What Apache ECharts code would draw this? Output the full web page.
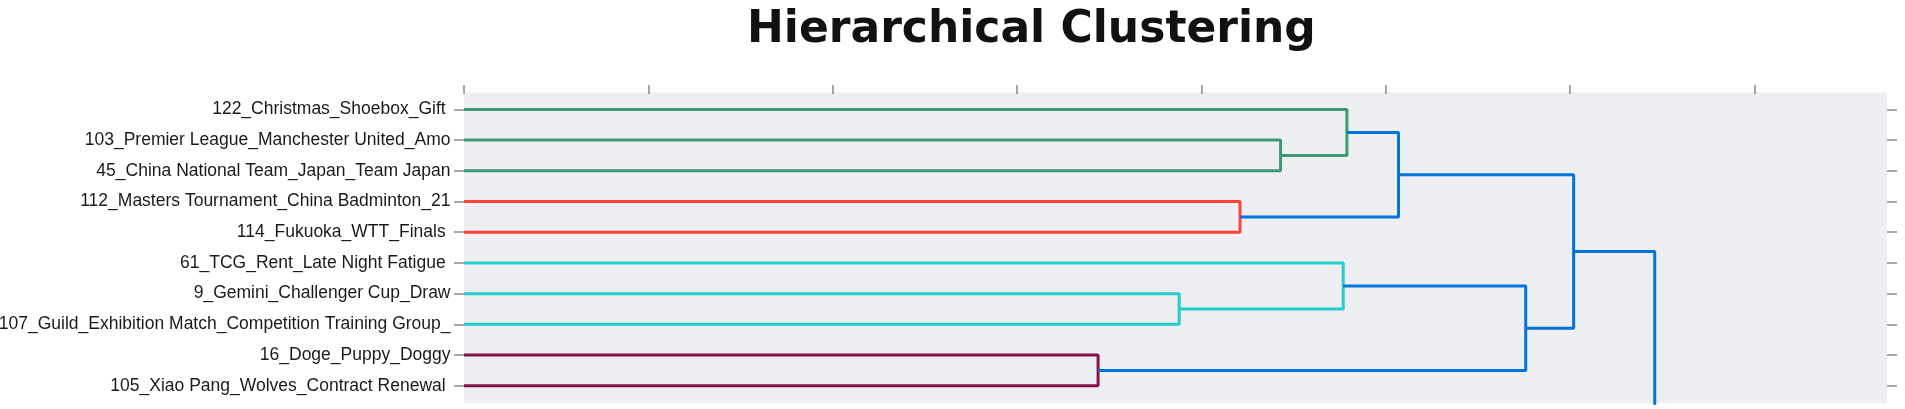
<!DOCTYPE html>
<html>
<head>
<meta charset="utf-8">
<title>Hierarchical Clustering</title>
<script src="https://cdn.jsdelivr.net/npm/echarts@6/dist/echarts.min.js"></script>
<style>
  html, body { margin: 0; padding: 0; background: #fff; }
  #chart { width: 1905px; height: 409px; }
</style>
</head>
<body>
<div id="chart"></div>
<script>
// leaves from top to bottom (trailing spaces are in the original labels)
let leafNames = [
    '122_Christmas_Shoebox_Gift ',
    '103_Premier League_Manchester United_Amo',
    '45_China National Team_Japan_Team Japan',
    '112_Masters Tournament_China Badminton_21',
    '114_Fukuoka_WTT_Finals ',
    '61_TCG_Rent_Late Night Fatigue ',
    '9_Gemini_Challenger Cup_Draw',
    '107_Guild_Exhibition Match_Competition Training Group_',
    '16_Doge_Puppy_Doggy',
    '105_Xiao Pang_Wolves_Contract Renewal '
]
let leafPos = [5, 15, 25, 35, 45, 55, 65, 75, 85, 95]
let distTicks = [0, 1, 2, 3, 4, 5, 6, 7]

// one U shaped link per merge: distance (dcoord) and leaf position (icoord)
let linkDist = [
    [0, 4.43, 4.43, 0],
    [0, 4.79, 4.79, 4.43],
    [0, 4.21, 4.21, 0],
    [4.79, 5.07, 5.07, 4.21],
    [0, 3.88, 3.88, 0],
    [0, 4.77, 4.77, 3.88],
    [0, 3.44, 3.44, 0],
    [4.77, 5.76, 5.76, 3.44],
    [5.07, 6.02, 6.02, 5.76],
    [6.02, 6.46, 6.46, 6.0]
]
let linkPos = [
    [15, 15, 25, 25],
    [5, 5, 20, 20],
    [35, 35, 45, 45],
    [12.5, 12.5, 40, 40],
    [65, 65, 75, 75],
    [55, 55, 70, 70],
    [85, 85, 95, 95],
    [62.5, 62.5, 90, 90],
    [26.25, 26.25, 76.25, 76.25],
    [51.25, 51.25, 150, 150]
]
let linkColor = [
    'rgb(61,153,112)', 'rgb(61,153,112)', 'rgb(255,65,54)', 'rgb(0,116,217)',
    'rgb(35,205,205)', 'rgb(35,205,205)', 'rgb(133,20,75)', 'rgb(0,116,217)',
    'rgb(0,116,217)', 'rgb(0,116,217)'
]

let tickStyle = { color: '#8a8a8a', width: 1.5 }

let series = linkDist.map(function(xs, i) {
    return {
        type: 'line',
        data: xs.map(function(x, j) { return [x, linkPos[i][j]] }),
        showSymbol: false,
        clip: true,
        silent: true,
        lineStyle: { color: linkColor[i], width: 3 }
    }
})

let option = {
    animation: false,
    title: {
        text: 'Hierarchical Clustering',
        left: 747,
        top: 9,
        padding: 0,
        textStyle: {
            fontFamily: 'DejaVu Sans',
            fontWeight: 'bold',
            fontSize: 44,
            color: '#111'
        }
    },
    grid: {
        left: 464,
        right: 18,
        top: 92.5,
        bottom: 5.7,
        show: true,
        backgroundColor: '#eeeff2',
        borderWidth: 0,
        outerBoundsMode: 'none'
    },
    xAxis: {
        type: 'value',
        position: 'top',
        min: 0,
        max: 7.72,
        axisLine: { show: false },
        splitLine: { show: false },
        axisLabel: { show: false },
        axisTick: { show: true, length: 9, customValues: distTicks, lineStyle: tickStyle }
    },
    yAxis: [{
        type: 'value',
        position: 'left',
        inverse: true,
        min: -0.5,
        max: 100.7,
        axisLine: { show: false },
        splitLine: { show: false },
        axisTick: { show: true, length: 10, customValues: leafPos, lineStyle: tickStyle },
        axisLabel: {
            customValues: leafPos,
            margin: 13.5,
            fontFamily: 'Liberation Sans',
            fontSize: 17.5,
            color: '#1a1a1a',
            formatter: function(v) { return leafNames[leafPos.indexOf(v)] }
        }
    }, {
        type: 'value',
        position: 'right',
        inverse: true,
        min: -0.5,
        max: 100.7,
        axisLine: { show: false },
        splitLine: { show: false },
        axisLabel: { show: false },
        axisTick: { show: true, length: 10, customValues: leafPos, lineStyle: tickStyle }
    }],
    series: series
}

let myChart = echarts.init(document.getElementById('chart'))
myChart.setOption(option)
</script>
</body>
</html>
